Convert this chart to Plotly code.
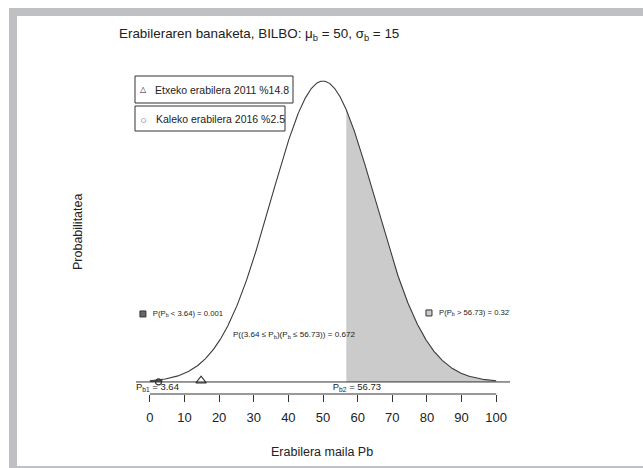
import numpy as np
import plotly.graph_objects as go

# ---- data ----
mu_b = 50
sigma_b = 15
p_b1 = 3.64
p_b2 = 56.73
prob_low = 0.001
prob_mid = 0.672
prob_high = 0.327
etxeko_2011 = 14.8
kaleko_2016 = 2.5
x_ticks = [0, 10, 20, 30, 40, 50, 60, 70, 80, 90, 100]

W, H = 643, 468
FONT = "Liberation Sans, Arial, sans-serif"
INK = "#222222"


def px(v):
    return v / W


def py(v):
    return 1 - v / H


def dens(x):
    return np.exp(-0.5 * ((x - mu_b) / sigma_b) ** 2) / (sigma_b * np.sqrt(2 * np.pi))


ymax = dens(mu_b)
xs = np.linspace(0, 100, 801)
ys = dens(xs)

fig = go.Figure()

# right tail shading
xr = xs[xs >= p_b2]
xr = np.concatenate([[p_b2], xr])
fig.add_trace(go.Scatter(x=xr, y=dens(xr), fill="tozeroy", mode="lines",
                         line=dict(width=0), fillcolor="#cbcbcb", hoverinfo="skip",
                         showlegend=False))
# left tail shading
xl = xs[xs <= p_b1]
xl = np.concatenate([xl, [p_b1]])
fig.add_trace(go.Scatter(x=xl, y=dens(xl), fill="tozeroy", mode="lines",
                         line=dict(width=0), fillcolor="#555555", hoverinfo="skip",
                         showlegend=False))
# density curve
fig.add_trace(go.Scatter(x=xs, y=ys, mode="lines", line=dict(color="#3a3a3a", width=1.1),
                         hoverinfo="skip", showlegend=False))
# baseline
fig.add_trace(go.Scatter(x=[-4.05, 104.05], y=[0, 0], mode="lines",
                         line=dict(color="#333333", width=1), hoverinfo="skip",
                         showlegend=False))
# markers
fig.add_trace(go.Scatter(x=[etxeko_2011], y=[0.00012], mode="markers",
                         marker=dict(symbol="triangle-up-open", size=9,
                                     color="#333333", line=dict(width=1.1)),
                         showlegend=False, hoverinfo="skip"))
fig.add_trace(go.Scatter(x=[kaleko_2016], y=[0], mode="markers",
                         marker=dict(symbol="circle-open", size=6,
                                     color="#333333", line=dict(width=1.2)),
                         showlegend=False, hoverinfo="skip"))

# clipped text labels (as text traces so they clip at the plot region)
txt_font = dict(family=FONT, size=9.5, color=INK)
fig.add_trace(go.Scatter(
    x=[8.4], y=[-0.00052], mode="text",
    text=[f"P<sub>b1</sub> = {p_b1}"], textposition="middle left",
    textfont=txt_font, cliponaxis=True, showlegend=False, hoverinfo="skip"))
fig.add_trace(go.Scatter(
    x=[59.8], y=[-0.00052], mode="text",
    text=[f"P<sub>b2</sub> = {p_b2}"], textposition="middle center",
    textfont=txt_font, cliponaxis=True, showlegend=False, hoverinfo="skip"))
small = dict(family=FONT, size=7.7, color=INK)
fig.add_trace(go.Scatter(
    x=[0.87], y=[0.00601], mode="text",
    text=[f"P(P<sub>b</sub> < {p_b1}) = {prob_low}"], textposition="middle right",
    textfont=small, cliponaxis=True, showlegend=False, hoverinfo="skip"))
fig.add_trace(go.Scatter(
    x=[83.5], y=[0.0061], mode="text",
    text=[f"P(P<sub>b</sub> > {p_b2}) = {prob_high}"], textposition="middle right",
    textfont=small, cliponaxis=True, showlegend=False, hoverinfo="skip"))
fig.add_trace(go.Scatter(
    x=[41.6], y=[0.00415], mode="text",
    text=[f"P(({p_b1} ≤ P<sub>b</sub>)(P<sub>b</sub> ≤ {p_b2})) = {prob_mid}"],
    textposition="middle center",
    textfont=dict(family=FONT, size=8.1, color=INK),
    cliponaxis=True, showlegend=False, hoverinfo="skip"))
# legend squares for probabilities
fig.add_trace(go.Scatter(x=[-2.0, 80.6], y=[0.00601, 0.0061], mode="markers",
                         marker=dict(symbol="square", size=6,
                                     color=["#666666", "#cbcbcb"],
                                     line=dict(color="#333333", width=1)),
                         showlegend=False, hoverinfo="skip"))

shapes = []
frame = "#bfc0c4"
# gray frame of the picture
shapes.append(dict(type="rect", xref="paper", yref="paper", x0=px(9), x1=1,
                   y0=py(16), y1=py(8), fillcolor=frame, line=dict(width=0), layer="below"))
shapes.append(dict(type="rect", xref="paper", yref="paper", x0=px(9), x1=px(17),
                   y0=py(468), y1=py(8), fillcolor=frame, line=dict(width=0), layer="below"))
shapes.append(dict(type="rect", xref="paper", yref="paper", x0=px(9), x1=1,
                   y0=0, y1=py(466), fillcolor=frame, line=dict(width=0), layer="below"))
# x axis line (only over 0..100)
shapes.append(dict(type="line", xref="x", yref="paper", x0=0, x1=100,
                   y0=py(394), y1=py(394), line=dict(color="#333333", width=1)))
# legend boxes
shapes.append(dict(type="rect", xref="paper", yref="paper", x0=px(135), x1=px(293),
                   y0=py(103), y1=py(76), line=dict(color="#333333", width=1)))
shapes.append(dict(type="rect", xref="paper", yref="paper", x0=px(135), x1=px(285),
                   y0=py(131), y1=py(106), line=dict(color="#333333", width=1)))

annotations = [
    dict(x=px(259), y=py(35), xref="paper", yref="paper", showarrow=False,
         text=f"Erabileraren banaketa, BILBO: μ<sub>b</sub> = {mu_b}, σ<sub>b</sub> = {sigma_b}",
         font=dict(family=FONT, size=13.4, color=INK), xanchor="center", yanchor="middle"),
    dict(x=px(322), y=py(452), xref="paper", yref="paper", showarrow=False,
         text="Erabilera maila Pb", font=dict(family=FONT, size=12.5, color=INK),
         xanchor="center", yanchor="middle"),
    dict(x=px(78), y=py(232), xref="paper", yref="paper", showarrow=False,
         text="Probabilitatea", textangle=-90, font=dict(family=FONT, size=12.5, color=INK),
         xanchor="center", yanchor="middle"),
    dict(x=px(143), y=py(90), xref="paper", yref="paper", showarrow=False,
         text="△", font=dict(family="DejaVu Sans", size=8, color=INK),
         xanchor="center", yanchor="middle"),
    dict(x=px(153), y=py(90), xref="paper", yref="paper", showarrow=False,
         text=f"Etxeko erabilera 2011 %{etxeko_2011}", font=dict(family=FONT, size=10.5, color=INK),
         xanchor="left", yanchor="middle"),
    dict(x=px(143), y=py(119), xref="paper", yref="paper", showarrow=False,
         text="○", font=dict(family="DejaVu Sans", size=6, color=INK),
         xanchor="center", yanchor="middle"),
    dict(x=px(154), y=py(119), xref="paper", yref="paper", showarrow=False,
         text=f"Kaleko erabilera 2016 %{kaleko_2016}", font=dict(family=FONT, size=10.5, color=INK),
         xanchor="left", yanchor="middle"),
]

fig.update_layout(
    width=W, height=H, autosize=False,
    margin=dict(l=0, r=0, t=0, b=0),
    paper_bgcolor="white", plot_bgcolor="rgba(0,0,0,0)",
    shapes=shapes, annotations=annotations, showlegend=False,
    xaxis=dict(domain=[px(136), px(510)], range=[-4, 104], showgrid=False,
               zeroline=False, showline=False, tickmode="array", tickvals=x_ticks,
               ticks="outside", ticklen=7, tickcolor="#333333", tickwidth=1,
               tickfont=dict(family=FONT, size=13, color=INK), ticklabelstandoff=4),
    yaxis=dict(domain=[py(394), py(69)], range=[-0.04 * ymax, 1.04 * ymax],
               showgrid=False, zeroline=False, showline=False, showticklabels=False,
               ticks=""),
)

fig.write_html("out.html")
